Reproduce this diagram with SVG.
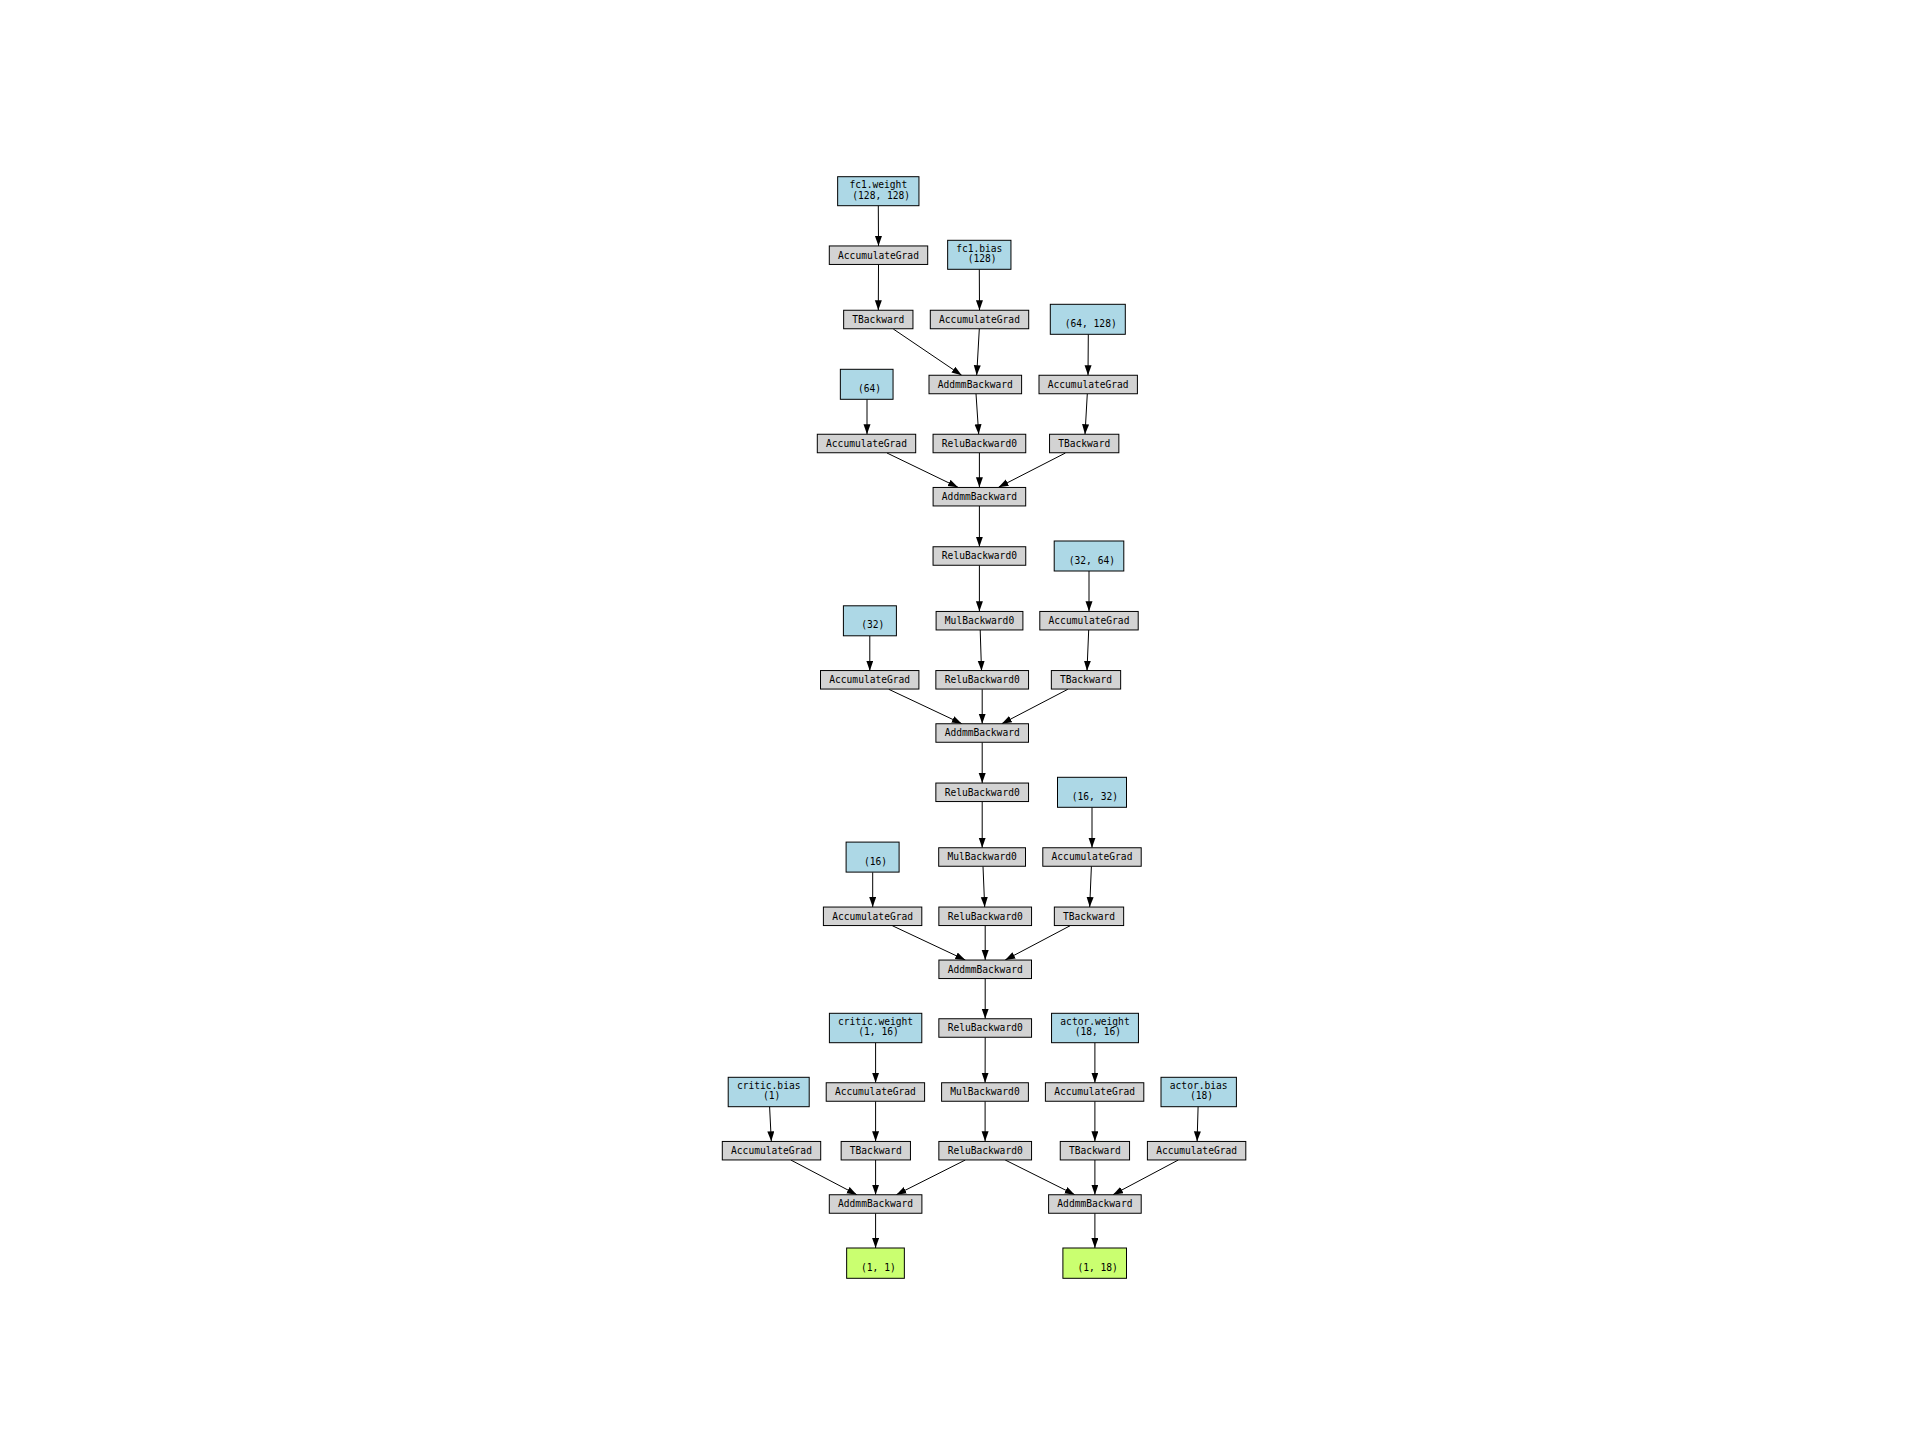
<svg xmlns="http://www.w3.org/2000/svg" width="1920" height="1440" viewBox="0 0 1920 1440">
<style>
rect{stroke:#000;stroke-width:1}
.g{fill:#d3d3d3}
.p{fill:#add8e6}
.o{fill:#caff70}
text{font-family:"DejaVu Sans Mono","Liberation Mono",monospace;font-size:9.6px;text-anchor:middle;fill:#000}
#edges line{stroke:#000;stroke-width:1;marker-end:url(#ah)}
</style>
<defs>
<marker id="ah" markerUnits="userSpaceOnUse" markerWidth="12" markerHeight="10" refX="10" refY="3.5" orient="auto" viewBox="0 0 12 10">
<path d="M0,0 L10,3.5 L0,7 z" fill="#000"/>
</marker>
</defs>
<rect x="0" y="0" width="1920" height="1440" fill="#fff" style="stroke:none"/>
<g id="edges">
<line x1="878.3" y1="205.7" x2="878.5" y2="246"/>
<line x1="878.5" y1="264.5" x2="878.3" y2="310.3"/>
<line x1="979.3" y1="269.3" x2="979.5" y2="310.3"/>
<line x1="893.3" y1="329" x2="961.7" y2="375.3"/>
<line x1="979.3" y1="329" x2="976.7" y2="375.3"/>
<line x1="1088.3" y1="334.3" x2="1088" y2="375.3"/>
<line x1="976" y1="393.7" x2="978.7" y2="434.3"/>
<line x1="1087.3" y1="393.7" x2="1085" y2="434.3"/>
<line x1="867" y1="399.3" x2="867" y2="434.3"/>
<line x1="887" y1="453" x2="958" y2="487.3"/>
<line x1="979.4" y1="453" x2="979.4" y2="487.3"/>
<line x1="1065.4" y1="453" x2="998.5" y2="487.3"/>
<line x1="979.4" y1="506" x2="979.4" y2="546.7"/>
<line x1="979.4" y1="565.3" x2="979.4" y2="611.3"/>
<line x1="1089" y1="571" x2="1089" y2="611.3"/>
<line x1="869.8" y1="636" x2="869.8" y2="670.7"/>
<line x1="980.2" y1="630" x2="981.5" y2="670.7"/>
<line x1="1088.7" y1="630" x2="1087" y2="670.7"/>
<line x1="888.8" y1="689.3" x2="961.8" y2="723.7"/>
<line x1="982.2" y1="689.3" x2="982.2" y2="723.7"/>
<line x1="1067.8" y1="689.3" x2="1001.8" y2="723.7"/>
<line x1="982.2" y1="742.3" x2="982.2" y2="783"/>
<line x1="982.2" y1="801.7" x2="982.2" y2="847.7"/>
<line x1="1092" y1="807.3" x2="1092" y2="847.7"/>
<line x1="872.7" y1="872.3" x2="872.7" y2="907"/>
<line x1="983" y1="866.3" x2="984.7" y2="907"/>
<line x1="1091.4" y1="866.3" x2="1089.7" y2="907"/>
<line x1="892.3" y1="925.7" x2="965.3" y2="960"/>
<line x1="985.2" y1="925.7" x2="985.2" y2="960"/>
<line x1="1070.2" y1="925.7" x2="1005.2" y2="960"/>
<line x1="985.2" y1="978.7" x2="985.2" y2="1018.7"/>
<line x1="875.6" y1="1042.7" x2="875.6" y2="1082.7"/>
<line x1="1094.9" y1="1042.7" x2="1094.9" y2="1082.7"/>
<line x1="985.2" y1="1037.3" x2="985.1" y2="1082.7"/>
<line x1="769.6" y1="1106.7" x2="771.3" y2="1141.3"/>
<line x1="1198.1" y1="1106.7" x2="1197.1" y2="1141.3"/>
<line x1="875.6" y1="1101.3" x2="875.6" y2="1141.3"/>
<line x1="985.1" y1="1101.3" x2="985.1" y2="1141.3"/>
<line x1="1094.9" y1="1101.3" x2="1094.9" y2="1141.3"/>
<line x1="790.8" y1="1160" x2="856.8" y2="1194.7"/>
<line x1="875.6" y1="1160" x2="875.6" y2="1194.7"/>
<line x1="965.3" y1="1160" x2="896.4" y2="1194.7"/>
<line x1="1005.2" y1="1160" x2="1074.7" y2="1194.7"/>
<line x1="1094.9" y1="1160" x2="1094.9" y2="1194.7"/>
<line x1="1178.3" y1="1160" x2="1113" y2="1194.7"/>
<line x1="875.6" y1="1213.3" x2="875.6" y2="1248"/>
<line x1="1094.9" y1="1213.3" x2="1094.9" y2="1248"/>
</g>
<g id="n_fc1w"><rect class="p" x="837.65" y="176.7" width="81.3" height="29"/><text x="878.3" y="188.2">fc1.weight</text><text x="881.2" y="198.5">(128, 128)</text></g>
<g id="n_ag1"><rect class="g" x="829.3" y="245.95" width="98.4" height="18.5"/><text x="878.5" y="258.6">AccumulateGrad</text></g>
<g id="n_fc1b"><rect class="p" x="947.65" y="240.3" width="63.3" height="29"/><text x="979.3" y="251.8">fc1.bias</text><text x="982.2" y="262.1">(128)</text></g>
<g id="n_t1"><rect class="g" x="843.65" y="310.25" width="69.3" height="18.5"/><text x="878.3" y="322.9">TBackward</text></g>
<g id="n_agb1"><rect class="g" x="930.3" y="310.25" width="98.4" height="18.5"/><text x="979.5" y="322.9">AccumulateGrad</text></g>
<g id="n_p64_128"><rect class="p" x="1050.3" y="304.3" width="75" height="30"/><text x="1090.7" y="326.8">(64, 128)</text></g>
<g id="n_addmm1"><rect class="g" x="929" y="375.25" width="92.6" height="18.5"/><text x="975.3" y="387.9">AddmmBackward</text></g>
<g id="n_ag64_128"><rect class="g" x="1039" y="375.25" width="98.4" height="18.5"/><text x="1088.2" y="387.9">AccumulateGrad</text></g>
<g id="n_p64"><rect class="p" x="840.35" y="369.3" width="52.7" height="30"/><text x="869.6" y="391.8">(64)</text></g>
<g id="n_ag64"><rect class="g" x="817.3" y="434.25" width="98.4" height="18.5"/><text x="866.5" y="446.9">AccumulateGrad</text></g>
<g id="n_relu1"><rect class="g" x="933.05" y="434.25" width="92.7" height="18.5"/><text x="979.4" y="446.9">ReluBackward0</text></g>
<g id="n_t2"><rect class="g" x="1049.55" y="434.25" width="69.3" height="18.5"/><text x="1084.2" y="446.9">TBackward</text></g>
<g id="n_addmm2"><rect class="g" x="933.1" y="487.45" width="92.6" height="18.5"/><text x="979.4" y="500.1">AddmmBackward</text></g>
<g id="n_relu2"><rect class="g" x="933.05" y="546.75" width="92.7" height="18.5"/><text x="979.4" y="559.4">ReluBackward0</text></g>
<g id="n_p32_64"><rect class="p" x="1054.2" y="541" width="69.6" height="30"/><text x="1091.9" y="563.5">(32, 64)</text></g>
<g id="n_p32"><rect class="p" x="843.4" y="605.8" width="53" height="30"/><text x="872.8" y="628.3">(32)</text></g>
<g id="n_mul1"><rect class="g" x="936.1" y="611.45" width="86.8" height="18.5"/><text x="979.5" y="624.1">MulBackward0</text></g>
<g id="n_ag32_64"><rect class="g" x="1039.8" y="611.45" width="98.4" height="18.5"/><text x="1089" y="624.1">AccumulateGrad</text></g>
<g id="n_ag32"><rect class="g" x="820.5" y="670.55" width="98.4" height="18.5"/><text x="869.7" y="683.2">AccumulateGrad</text></g>
<g id="n_relu3"><rect class="g" x="935.85" y="670.55" width="92.7" height="18.5"/><text x="982.2" y="683.2">ReluBackward0</text></g>
<g id="n_t3"><rect class="g" x="1051.35" y="670.55" width="69.3" height="18.5"/><text x="1086" y="683.2">TBackward</text></g>
<g id="n_addmm3"><rect class="g" x="935.9" y="723.75" width="92.6" height="18.5"/><text x="982.2" y="736.4">AddmmBackward</text></g>
<g id="n_relu4"><rect class="g" x="935.85" y="783.05" width="92.7" height="18.5"/><text x="982.2" y="795.7">ReluBackward0</text></g>
<g id="n_p16_32"><rect class="p" x="1057.5" y="777.3" width="69" height="30"/><text x="1094.9" y="799.8">(16, 32)</text></g>
<g id="n_p16"><rect class="p" x="846.1" y="842.1" width="53" height="30"/><text x="875.5" y="864.6">(16)</text></g>
<g id="n_mul2"><rect class="g" x="938.7" y="847.75" width="86.8" height="18.5"/><text x="982.1" y="860.4">MulBackward0</text></g>
<g id="n_ag16_32"><rect class="g" x="1042.8" y="847.75" width="98.4" height="18.5"/><text x="1092" y="860.4">AccumulateGrad</text></g>
<g id="n_ag16"><rect class="g" x="823.4" y="907.05" width="98.4" height="18.5"/><text x="872.6" y="919.7">AccumulateGrad</text></g>
<g id="n_relu5"><rect class="g" x="938.85" y="907.05" width="92.7" height="18.5"/><text x="985.2" y="919.7">ReluBackward0</text></g>
<g id="n_t4"><rect class="g" x="1054.35" y="907.05" width="69.3" height="18.5"/><text x="1089" y="919.7">TBackward</text></g>
<g id="n_addmm4"><rect class="g" x="938.9" y="960.05" width="92.6" height="18.5"/><text x="985.2" y="972.7">AddmmBackward</text></g>
<g id="n_cw"><rect class="p" x="829.4" y="1013.3" width="92.4" height="29.4"/><text x="875.6" y="1025">critic.weight</text><text x="878.5" y="1035.3">(1, 16)</text></g>
<g id="n_relu6"><rect class="g" x="938.85" y="1018.75" width="92.7" height="18.5"/><text x="985.2" y="1031.4">ReluBackward0</text></g>
<g id="n_aw"><rect class="p" x="1051.55" y="1013.3" width="86.9" height="29.4"/><text x="1095" y="1025">actor.weight</text><text x="1097.9" y="1035.3">(18, 16)</text></g>
<g id="n_cb"><rect class="p" x="728.2" y="1077.3" width="81" height="29.4"/><text x="768.7" y="1089">critic.bias</text><text x="771.6" y="1099.3">(1)</text></g>
<g id="n_ag_cw"><rect class="g" x="826.2" y="1082.75" width="98.4" height="18.5"/><text x="875.4" y="1095.4">AccumulateGrad</text></g>
<g id="n_mul3"><rect class="g" x="941.6" y="1082.75" width="86.8" height="18.5"/><text x="985" y="1095.4">MulBackward0</text></g>
<g id="n_ag_aw"><rect class="g" x="1045.4" y="1082.75" width="98.4" height="18.5"/><text x="1094.6" y="1095.4">AccumulateGrad</text></g>
<g id="n_ab"><rect class="p" x="1161" y="1077.3" width="75.4" height="29.4"/><text x="1198.7" y="1089">actor.bias</text><text x="1201.6" y="1099.3">(18)</text></g>
<g id="n_ag_cb"><rect class="g" x="722.3" y="1141.45" width="98.4" height="18.5"/><text x="771.5" y="1154.1">AccumulateGrad</text></g>
<g id="n_t_cw"><rect class="g" x="841.15" y="1141.45" width="69.3" height="18.5"/><text x="875.8" y="1154.1">TBackward</text></g>
<g id="n_relu7"><rect class="g" x="938.85" y="1141.45" width="92.7" height="18.5"/><text x="985.2" y="1154.1">ReluBackward0</text></g>
<g id="n_t_aw"><rect class="g" x="1060.25" y="1141.45" width="69.3" height="18.5"/><text x="1094.9" y="1154.1">TBackward</text></g>
<g id="n_ag_ab"><rect class="g" x="1147.4" y="1141.45" width="98.4" height="18.5"/><text x="1196.6" y="1154.1">AccumulateGrad</text></g>
<g id="n_addmmC"><rect class="g" x="829.3" y="1194.75" width="92.6" height="18.5"/><text x="875.6" y="1207.4">AddmmBackward</text></g>
<g id="n_addmmA"><rect class="g" x="1048.6" y="1194.75" width="92.6" height="18.5"/><text x="1094.9" y="1207.4">AddmmBackward</text></g>
<g id="n_out1"><rect class="o" x="846.65" y="1248" width="57.7" height="30.3"/><text x="878.4" y="1270.7">(1, 1)</text></g>
<g id="n_out2"><rect class="o" x="1062.9" y="1248" width="63.6" height="30.3"/><text x="1097.6" y="1270.7">(1, 18)</text></g>
</svg>
